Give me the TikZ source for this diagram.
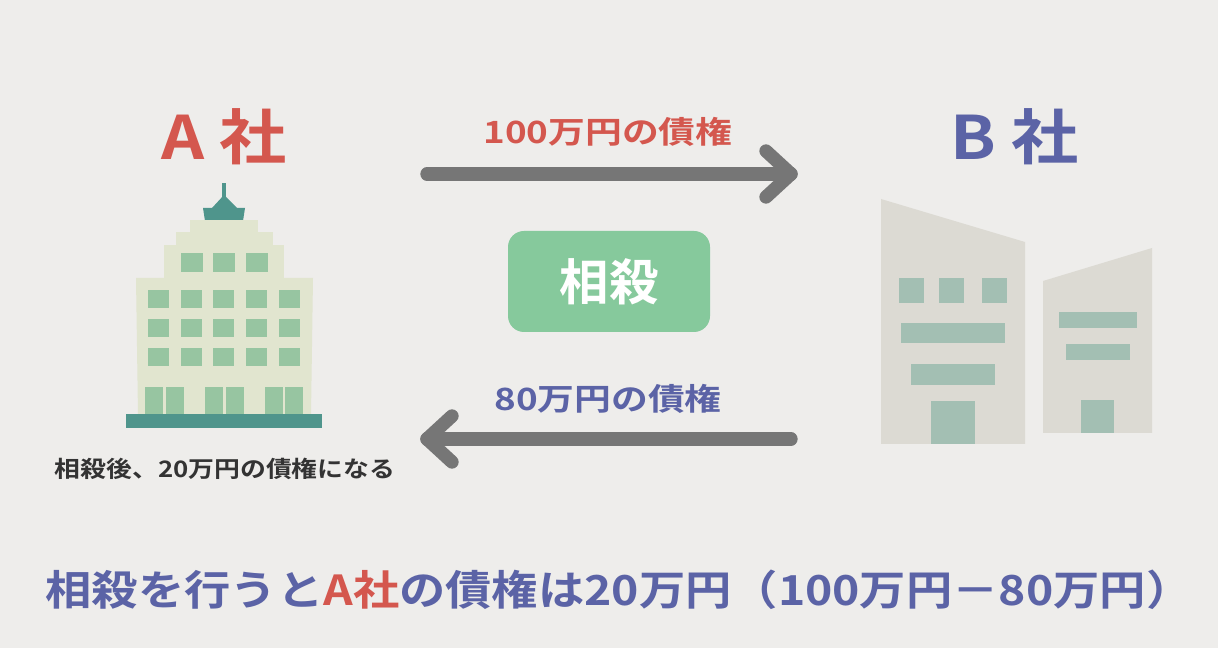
\documentclass[tikz,border=0pt]{standalone}
\usepackage{fontspec}
\newfontfamily\jp{Noto Sans CJK JP Bold}
\definecolor{bg}{HTML}{EEEDEB}
\definecolor{cred}{HTML}{D4574E}
\definecolor{cblue}{HTML}{5B63A6}
\definecolor{agray}{HTML}{767676}
\definecolor{boxg}{HTML}{86C99C}
\definecolor{abody}{HTML}{E1E5CF}
\definecolor{awin}{HTML}{97C5A1}
\definecolor{teal}{HTML}{4F958C}
\definecolor{bbody}{HTML}{DCDAD3}
\definecolor{bwin}{HTML}{A3BFB3}
\definecolor{dtext}{HTML}{333333}
\tikzset{arr/.style={draw=agray,line width=10pt,line cap=round,line join=round},
 lbl/.style={font=\jp\fontsize{23}{23}\selectfont,inner sep=0pt,xscale=1.2},
 ttl/.style={font=\jp\fontsize{45}{45}\selectfont,inner sep=0pt,xscale=1.12},
 aw/.style={fill=awin}, bw/.style={fill=bwin}}
\begin{document}
\begin{tikzpicture}[x=0.75pt,y=-0.75pt]
\fill[bg] (0,0) rectangle (1218,648);
% A building
\fill[teal] (222,183) rectangle (226,205);
\fill[teal] (203,208) -- (212,208) -- (224,195) -- (237,208) -- (245,208) -- (243,221) -- (205,221) -- cycle;
\fill[abody] (190,220) rectangle (258,233);
\fill[abody] (176,232) rectangle (273,246);
\fill[abody] (164,245) rectangle (284,279);
\fill[abody] (136,278) -- (313,278) -- (311,415) -- (138,415) -- cycle;
\foreach \x in {181,213,246} \fill[aw] (\x,253) rectangle ++(22,19);
\foreach \y in {290,319,348} \foreach \x in {148,181,213,246,279} \fill[aw] (\x,\y) rectangle ++(21,18);
\foreach \x in {145,166,205,226,265,285} \fill[aw] (\x,387) rectangle ++(18,28);
\fill[teal] (126,414) rectangle (322,428);
% B buildings
\fill[bbody] (881,199) -- (1025,242) -- (1025,444) -- (881,444) -- cycle;
\foreach \x in {899,939,982} \fill[bw] (\x,278) rectangle ++(25,25);
\fill[bw] (901,323) rectangle (1005,343);
\fill[bw] (911,364) rectangle (995,385);
\fill[bw] (931,401) rectangle (975,444);
\fill[bbody] (1043,281) -- (1152,248) -- (1152,433) -- (1043,433) -- cycle;
\fill[bw] (1059,312) rectangle (1137,328);
\fill[bw] (1066,344) rectangle (1130,360);
\fill[bw] (1081,400) rectangle (1114,433);
% titles
\node[ttl,text=cred] (ta) at (224,137) {A 社};
\node[ttl,text=cblue] (tb) at (1015,137) {B 社};
% arrows
\coordinate (a1s) at (427,174); \coordinate (a1e) at (791,174);
\draw[arr] (a1s) -- (a1e);
\draw[arr] (766,151) -- (a1e) -- (766,197);
\coordinate (a2s) at (791,439); \coordinate (a2e) at (427,439);
\draw[arr] (a2s) -- (a2e);
\draw[arr] (452,416) -- (a2e) -- (452,462);
\node[lbl,text=cred] (l1) at (608,132) {100万円の債権};
\node[lbl,text=cblue] (l2) at (608,399) {80万円の債権};
% box
\node[fill=boxg,rounded corners=12pt,minimum width=151.5pt,minimum height=75.75pt,inner sep=0pt,text=white,font=\jp\fontsize{37}{37}\selectfont] (box) at (609,281.5) {相殺};
\node[font=\jp\fontsize{17}{17}\selectfont,text=dtext,inner sep=0pt,xscale=1.14] (note) at (225,469) {相殺後、20万円の債権になる};
\node[font=\jp\fontsize{31}{31}\selectfont,text=cblue,inner sep=0pt,xscale=1.12] (bottom) at (619,590) {相殺を行うと\textcolor{cred}{A社}の債権は20万円（100万円－80万円）};
\end{tikzpicture}
\end{document}
